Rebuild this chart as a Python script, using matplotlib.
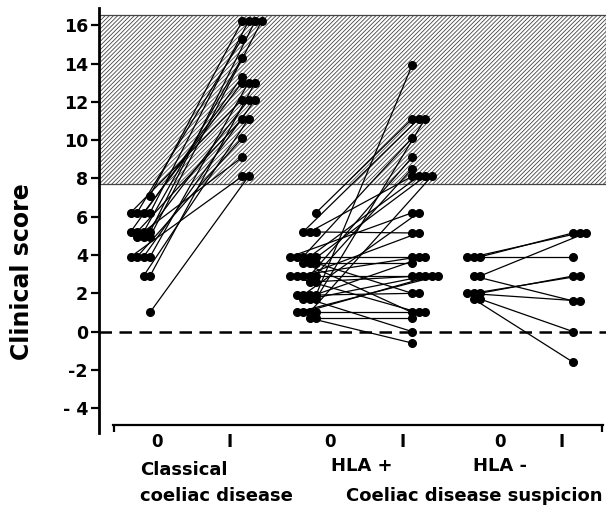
import matplotlib.pyplot as plt
from matplotlib.ticker import FixedLocator
from collections import Counter

# paired clinical scores, before (0) and after (I)
classical_0 = [7.1, 6.2, 6.2, 6.2, 6.2, 5.2, 5.2, 5.2, 5.2, 4.95, 4.95, 4.95,
               3.9, 3.9, 3.9, 3.9, 2.9, 2.9, 1.0]
classical_1 = [16.2, 16.2, 13.0, 15.3, 12.1, 16.2, 14.3, 11.1, 13.3, 16.2, 12.1, 9.1,
               13.0, 12.1, 10.1, 8.1, 13.0, 11.1, 8.1]

hla_pos_0 = [6.2, 5.2, 5.2, 5.2, 3.9, 3.9, 3.9, 3.9, 3.9, 3.6, 3.6, 3.6,
             2.9, 2.9, 2.9, 2.9, 2.9, 2.6, 2.6, 1.9, 1.9, 1.9, 1.9,
             1.7, 1.7, 1.7, 1.0, 1.0, 1.0, 1.0, 0.7, 0.7]
hla_pos_1 = [11.1, 5.15, 8.1, 11.1, 3.9, 8.1, 10.1, 2.0, 6.2, 3.6, 8.1, 1.0,
             2.9, 9.1, 5.15, 3.9, 1.0, 2.9, 8.5, 13.9, 2.0, 6.2, 0.0,
             11.1, 2.9, 3.9, 1.0, 8.1, 2.9, 2.9, 0.7, -0.6]

hla_neg_0 = [3.9, 3.9, 3.9, 2.9, 2.9, 2.0, 2.0, 2.0, 1.7, 1.7]
hla_neg_1 = [5.15, 5.15, 3.9, 5.15, 1.6, 2.9, 2.9, 1.6, 0.0, -1.6]

ytick_vals = [16, 14, 12, 10, 8, 6, 4, 2, 0, -2, -4]
ytick_labels = ["16", "14", "12", "10", "8", "6", "4", "2", "0", "-2", "- 4"]
xtick_labels = ["0", "I", "0", "I", "0", "I"]

# layout (pixel-like x units)
xtick_pos = [157, 230, 330, 403, 500, 562]
groups = [(classical_0, classical_1, 150, 242),
          (hla_pos_0, hla_pos_1, 316, 412),
          (hla_neg_0, hla_neg_1, 480, 573)]
step = 6.5

plt.rcParams['font.family'] = ['DejaVu Sans']
plt.rcParams['font.weight'] = 'bold'
plt.rcParams['hatch.linewidth'] = 0.6

fig = plt.figure(figsize=(6.06, 5.11), dpi=100)
ax = fig.add_axes([99 / 606, 1 - 433 / 511, 1 - 99 / 606, (433 - 8) / 511])
ax.set_xlim(99, 606)
ax.set_ylim(-5.3, 16.9)

# hatched normal-range band and zero line
ax.axhspan(7.7, 16.55, facecolor='white', edgecolor='#444444', hatch='////////',
           linewidth=0.9, zorder=0)
ax.axhline(0, color='black', linestyle=(0, (5, 3)), linewidth=1.8, zorder=1)


def positions(vals, anchor, direction):
    seen = Counter()
    xs = []
    for v in vals:
        xs.append(anchor + direction * seen[v] * step)
        seen[v] += 1
    return xs


for before, after, a0, a1 in groups:
    x0 = positions(before, a0, -1)
    x1 = positions(after, a1, 1)
    for xa, ya, xb, yb in zip(x0, before, x1, after):
        ax.plot([xa, xb], [ya, yb], color='black', linewidth=0.9, zorder=2)
    ax.plot(x0, before, 'o', color='black', markersize=5.5, zorder=3)
    ax.plot(x1, after, 'o', color='black', markersize=5.5, zorder=3)

for s in ['top', 'right']:
    ax.spines[s].set_visible(False)
ax.spines['left'].set_linewidth(2)
ax.spines['bottom'].set_linewidth(1.6)
ax.spines['bottom'].set_position(('data', -4.88))
ax.spines['bottom'].set_bounds(113, 603)

ax.set_yticks(ytick_vals)
ax.set_yticklabels(ytick_labels, fontsize=12.5, fontweight='bold')
ax.tick_params(axis='y', length=6, width=1.6, pad=2)

ax.set_xticks(xtick_pos)
ax.set_xticklabels(xtick_labels, fontsize=12, fontweight='bold')
ax.xaxis.set_minor_locator(FixedLocator([113.8, 602.2]))
ax.tick_params(axis='x', which='major', length=0, pad=6)
ax.tick_params(axis='x', which='minor', length=5, width=1.6)

ax.set_ylabel("Clinical score", fontsize=17, fontweight='bold')
ax.yaxis.set_label_coords(-0.128, 0.38)

fig.text(140 / 606, 1 - 470 / 511, "Classical", fontsize=13, fontweight='bold',
         ha='left', va='center')
fig.text(140 / 606, 1 - 496 / 511, "coeliac disease", fontsize=13, fontweight='bold',
         ha='left', va='center')
fig.text(362 / 606, 1 - 466 / 511, "HLA +", fontsize=13, fontweight='bold',
         ha='center', va='center')
fig.text(500 / 606, 1 - 466 / 511, "HLA -", fontsize=13, fontweight='bold',
         ha='center', va='center')
fig.text(603 / 606, 1 - 496 / 511, "Coeliac disease suspicion", fontsize=13,
         fontweight='bold', ha='right', va='center')

fig.savefig("out.png", dpi=100)
